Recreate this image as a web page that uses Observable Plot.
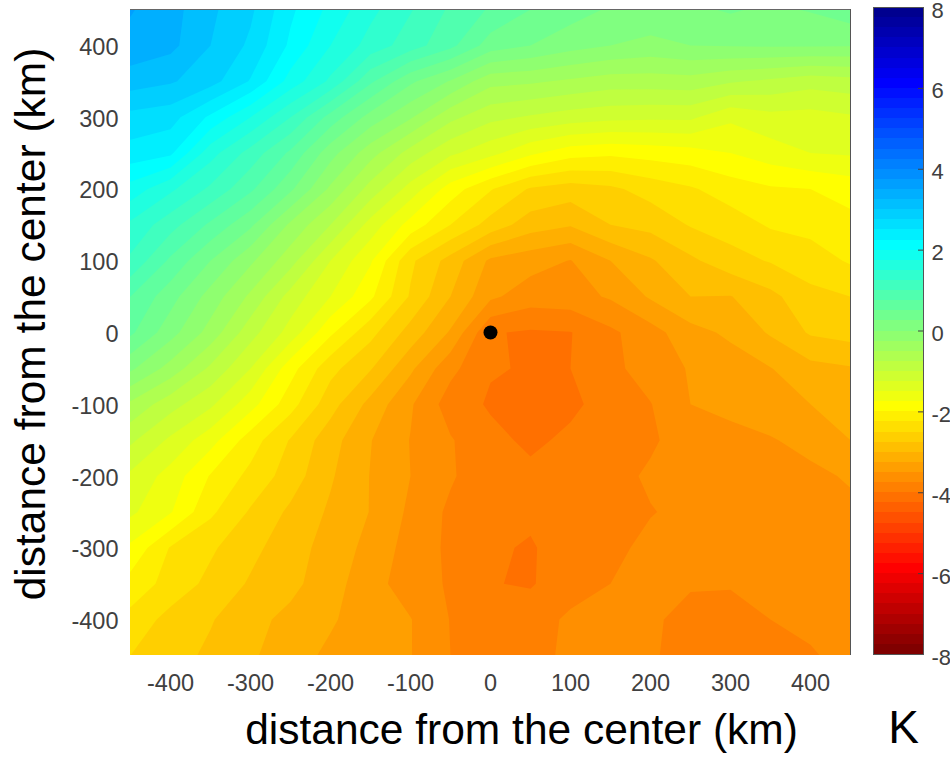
<!DOCTYPE html>
<html><head><meta charset="utf-8">
<script src="https://cdn.jsdelivr.net/npm/d3@7"></script>
<script src="https://cdn.jsdelivr.net/npm/@observablehq/plot@0.6"></script>
<style>
html,body{margin:0;padding:0;background:#fff;}
#wrap{position:relative;width:950px;height:765px;overflow:hidden;font-family:"Liberation Sans",Arial,sans-serif;}
#wrap svg{position:absolute;top:0;left:0;background:none;}
</style></head><body><div id="wrap"></div>
<script>
const r450 = [3.52,3.35,3.05,2.8,2.3,1.93,1.57,1.27,.96,.72,.5,.36,.22,.2,.2,.28,.2,.27,.4];
const r400 = [3.42,3.32,3.0,2.7,2.2,1.75,1.4,1.12,.82,.38,.25,.1,0,-.08,0,.02,.03,.03,.02];
const r350 = [3.12,3.03,2.85,2.48,1.9,1.45,.8,.3,-.02,-.42,-.46,-.54,-.62,-.62,-.6,-.72,-.8,-.9,-.85];
const r300 = [2.67,2.6,2.2,1.75,1.25,.65,.15,-.22,-.68,-.93,-1.03,-1.12,-1.18,-1.2,-1.2,-1.45,-1.33,-1.35,-1.28];
const r250 = [2.4,2.3,1.6,1.15,.7,.1,-.4,-.85,-1.2,-1.42,-1.7,-1.9,-1.95,-1.9,-1.85,-1.75,-1.62,-1.5,-1.47];
const r200 = [1.9,1.55,1.2,.8,.3,-.3,-.85,-1.35,-1.87,-2.23,-2.53,-2.62,-2.55,-2.4,-2.28,-2.13,-2.03,-2.0,-1.9];
const r150 = [1.45,1.1,.7,.3,-.3,-.75,-1.35,-1.85,-2.25,-2.6,-2.88,-2.98,-2.75,-2.67,-2.48,-2.38,-2.22,-2.17,-2.08];
const r100 = [1.2,.7,.25,-.2,-.65,-1.25,-1.72,-2.45,-2.85,-3.3,-3.4,-3.51,-3.25,-3.03,-2.8,-2.6,-2.48,-2.37,-2.22];
const r50 = [.75,.35,-.1,-.55,-1.1,-1.5,-1.95,-2.53,-3.0,-3.45,-3.63,-3.6,-3.47,-3.22,-3.0,-3.01,-2.82,-2.57,-2.5];
const r0 = [.55,.1,-.35,-.9,-1.35,-1.95,-2.42,-2.85,-3.28,-3.98,-4.03,-4.01,-3.8,-3.6,-3.34,-3.2,-2.97,-2.72,-2.65];
const rm50 = [.05,-.35,-.8,-1.25,-1.9,-2.42,-2.73,-3.2,-3.68,-3.98,-4.02,-4.0,-3.82,-3.63,-3.48,-3.38,-3.26,-3.08,-3.02];
const rm100 = [-.55,-.9,-1.2,-1.65,-2.15,-2.65,-3.08,-3.47,-3.87,-4.03,-4.2,-4.05,-3.9,-3.76,-3.5,-3.43,-3.35,-3.25,-3.13];
const rm150 = [-.95,-1.3,-1.65,-2.13,-2.52,-2.9,-3.24,-3.51,-3.73,-3.93,-4.05,-3.95,-3.87,-3.78,-3.65,-3.58,-3.52,-3.42,-3.25];
const rm200 = [-1.3,-1.6,-2.02,-2.32,-2.62,-2.97,-3.26,-3.5,-3.72,-3.92,-3.94,-3.9,-3.82,-3.72,-3.68,-3.65,-3.6,-3.56,-3.47];
const rm250 = [-1.45,-1.73,-2.2,-2.53,-2.8,-3.04,-3.26,-3.55,-3.8,-3.92,-3.96,-3.92,-3.84,-3.76,-3.7,-3.66,-3.62,-3.6,-3.56];
const rm300 = [-1.8,-2.27,-2.46,-2.68,-2.89,-3.1,-3.33,-3.6,-3.8,-3.97,-4.02,-3.9,-3.8,-3.7,-3.66,-3.63,-3.62,-3.6,-3.58];
const rm350 = [-2.1,-2.34,-2.57,-2.78,-2.93,-3.15,-3.4,-3.63,-3.78,-3.99,-4.02,-3.87,-3.75,-3.68,-3.72,-3.73,-3.66,-3.62,-3.6];
const rm400 = [-2.33,-2.59,-2.73,-2.92,-3.07,-3.22,-3.38,-3.49,-3.76,-3.88,-3.88,-3.7,-3.65,-3.7,-3.85,-3.85,-3.75,-3.68,-3.62];
const rm450 = [-2.5,-2.65,-2.8,-2.96,-3.15,-3.3,-3.42,-3.49,-3.75,-3.8,-3.83,-3.7,-3.62,-3.72,-3.85,-3.88,-3.87,-3.78,-3.65];
const tickValuesX = [-400,-300,-200,-100,0,100,200,300,400];
const tickValuesC = [-8,-6,-4,-2,0,2,4,6,8];
const axisTitle = "distance from the center (km)";
const unitTitle = "K";
const center = [{x:0,y:0}];

const grid = [r450,r400,r350,r300,r250,r200,r150,r100,r50,r0,rm50,rm100,rm150,rm200,rm250,rm300,rm350,rm400,rm450].flat();
const levels = d3.range(-8, 8.25, 0.25);
const bands = levels.slice(0,-1);

const ramp = (stops, v) => d3.scaleLinear().domain(stops[0]).range(stops[1]).clamp(true)(v);
function bandColor(lo){
  const j = 64 - (lo + 8) / 0.25;
  const r = ramp([[24,40,56,64],[0,1,1,.5]], j);
  const g = ramp([[8,24,40,56],[0,1,1,0]], j);
  const b = ramp([[1,8,24,40],[.5625,1,1,0]], j);
  return d3.rgb(r*255,g*255,b*255).formatHex();
}
const colorOpts = {type:"threshold", domain: bands.slice(1), range: bands.map(bandColor)};
const ink = "#404040";

const main = Plot.plot({
  width:950, height:765,
  marginLeft:130, marginRight:100, marginTop:9, marginBottom:110,
  style:{background:"none",fontFamily:"Liberation Sans, Arial, sans-serif"},
  x:{domain:[-450,450]},
  y:{domain:[-450,450]},
  color:colorOpts,
  marks:[
    Plot.contour(grid,{width:19,height:19,x1:-475,x2:475,y1:475,y2:-475,
      thresholds:levels, fill:Plot.identity, clip:true}),
    Plot.ruleY([450],{stroke:"#666",strokeWidth:1.2}),
    Plot.ruleX([450],{stroke:"#555",strokeWidth:1}),
    Plot.dot(center,{x:"x",y:"y",r:7,fill:"#000"}),
    Plot.axisX({ticks:tickValuesX,tickSize:0,tickPadding:19,fontSize:23.5,color:ink,label:null,tickFormat:d=>String(d)}),
    Plot.axisY({ticks:tickValuesX,tickSize:0,tickPadding:12,dy:2,fontSize:23.5,color:ink,label:null,tickFormat:d=>String(d)}),
    Plot.text([axisTitle],{frameAnchor:"bottom",dx:31,dy:88,fontSize:42.5,fill:"#000"}),
    Plot.text([axisTitle],{frameAnchor:"left",textAnchor:"middle",dx:-99,dy:-8.5,rotate:-90,fontSize:42.5,fill:"#000"})
  ]
});
document.getElementById("wrap").append(main);

const bar = Plot.plot({
  width:950, height:765,
  marginLeft:873, marginRight:27, marginTop:7, marginBottom:111,
  style:{background:"none",fontFamily:"Liberation Sans, Arial, sans-serif"},
  x:{domain:[0,1],axis:null},
  y:{domain:[-8,8]},
  color:colorOpts,
  marks:[
    Plot.rect(bands,{x1:0,x2:1,y1:d=>d,y2:d=>d+0.25,fill:d=>d,shapeRendering:"crispEdges"}),
    Plot.frame({stroke:"#555",strokeWidth:1}),
    Plot.ruleY(tickValuesC.slice(1,-1),{x1:0.9,x2:1,stroke:ink}),
    Plot.axisY({anchor:"right",ticks:tickValuesC,tickSize:0,tickPadding:8,dy:3,fontSize:22,color:ink,label:null,tickFormat:d=>String(d)}),
    Plot.text([unitTitle],{frameAnchor:"bottom",dx:5,dy:88,fontSize:46,fill:"#000"})
  ]
});
document.getElementById("wrap").append(bar);
</script></body></html>
